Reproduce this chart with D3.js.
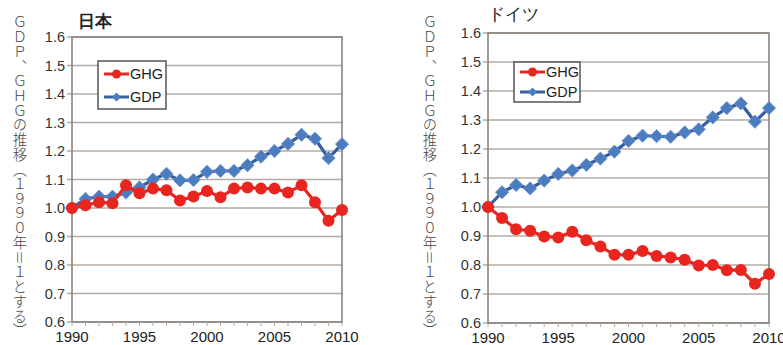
<!DOCTYPE html>
<html>
<head>
<meta charset="utf-8">
<script src="https://cdn.jsdelivr.net/npm/d3@7"></script>
<style>
  html, body { margin: 0; padding: 0; background: #ffffff; }
  svg { display: block; }
  text { font-family: "Liberation Sans", Arial, sans-serif; }
  .vlabel { font-family: "Noto Sans CJK JP", sans-serif; font-weight: 300; writing-mode: vertical-rl; }
</style>
</head>
<body>
<svg id="chart" width="783" height="345"></svg>
<script>
// Years on the x axis
const years = d3.range(1990, 2011);
const xTicks = [1990, 1995, 2000, 2005, 2010];
const yTicks = [0.6, 0.7, 0.8, 0.9, 1.0, 1.1, 1.2, 1.3, 1.4, 1.5, 1.6];

// Japan, index 1990 = 1
const japanGHG = [1.00, 1.01, 1.02, 1.017, 1.08, 1.052, 1.068, 1.062, 1.026, 1.04, 1.06,
                  1.038, 1.068, 1.072, 1.068, 1.068, 1.054, 1.08, 1.02, 0.955, 0.993];
const japanGDP = [1.00, 1.032, 1.04, 1.04, 1.054, 1.072, 1.10, 1.12, 1.097, 1.098, 1.127,
                  1.13, 1.13, 1.15, 1.18, 1.20, 1.225, 1.257, 1.243, 1.175, 1.224];

// Germany, index 1990 = 1
const germanyGHG = [1.00, 0.962, 0.923, 0.918, 0.898, 0.895, 0.915, 0.885, 0.864, 0.835, 0.835,
                    0.848, 0.831, 0.826, 0.818, 0.798, 0.800, 0.782, 0.783, 0.735, 0.769];
const germanyGDP = [1.00, 1.051, 1.076, 1.064, 1.091, 1.114, 1.126, 1.145, 1.167, 1.191, 1.228,
                    1.246, 1.244, 1.242, 1.257, 1.268, 1.309, 1.341, 1.357, 1.294, 1.341];

const yAxisLabel = "ＧＤＰ、ＧＨＧの推移（１９９０年＝１とする）";
const legendNames = ["GHG", "GDP"];

const RED = "#e8261f";
const BLUE_LINE = "#375f9f";
const BLUE_FILL = "#4a7cbf";
const GRID = "#b3aaa3";
const FRAME = "#8a827c";

const svg = d3.select("#chart");

// rotated-square marker
const diamond = d3.symbol(d3.symbolSquare, 88);

function drawPanel(p) {
  const g = svg.append("g");
  const x = d3.scaleLinear().domain([1990, 2010]).range([p.left, p.right]);
  const y = d3.scaleLinear().domain([0.6, 1.6]).range([p.bottom, p.top]);

  // horizontal gridlines (extend slightly left as tick marks)
  g.append("g").selectAll("line").data(yTicks).join("line")
    .attr("x1", p.left - 5).attr("x2", p.right)
    .attr("y1", d => y(d)).attr("y2", d => y(d))
    .attr("stroke", GRID).attr("stroke-width", 1.3);

  // plot frame
  g.append("rect")
    .attr("x", p.left).attr("y", p.top)
    .attr("width", p.right - p.left).attr("height", p.bottom - p.top)
    .attr("fill", "none").attr("stroke", FRAME).attr("stroke-width", 1.6);

  // y axis tick labels
  g.append("g").selectAll("text").data(yTicks).join("text")
    .attr("x", p.left - 7).attr("y", d => y(d) + 5)
    .attr("text-anchor", "end").attr("font-size", 14.5).attr("fill", "#333")
    .text(d => d.toFixed(1));

  // x axis ticks and labels
  g.append("g").selectAll("line").data(years).join("line")
    .attr("x1", d => x(d)).attr("x2", d => x(d))
    .attr("y1", p.bottom).attr("y2", p.bottom + 4)
    .attr("stroke", GRID).attr("stroke-width", 1);
  g.append("g").selectAll("text").data(xTicks).join("text")
    .attr("x", d => x(d)).attr("y", p.bottom + 20)
    .attr("text-anchor", "middle").attr("font-size", 15).attr("fill", "#222")
    .text(d => d);

  // title
  g.append("text")
    .attr("x", p.titleX).attr("y", p.titleY)
    .attr("font-family", "'Noto Sans CJK JP', sans-serif")
    .attr("font-size", 16.5).attr("font-weight", p.titleWeight).attr("fill", "#222")
    .text(p.title);

  // vertical axis title
  g.append("text")
    .attr("class", "vlabel")
    .attr("x", p.vlabelX).attr("y", 15)
    .attr("font-size", 14.3).attr("fill", "#444")
    .attr("letter-spacing", 0.4)
    .text(yAxisLabel);

  const line = d3.line().x((d, i) => x(years[i])).y(d => y(d));

  // GDP series
  g.append("path").datum(p.gdp)
    .attr("d", line).attr("fill", "none")
    .attr("stroke", BLUE_LINE).attr("stroke-width", 3.2);
  g.append("g").selectAll("path").data(p.gdp).join("path")
    .attr("d", diamond)
    .attr("transform", (d, i) => `translate(${x(years[i])},${y(d)}) rotate(45)`)
    .attr("fill", BLUE_FILL).attr("stroke", "#6f98cf").attr("stroke-width", 0.8);

  // GHG series
  g.append("path").datum(p.ghg)
    .attr("d", line).attr("fill", "none")
    .attr("stroke", RED).attr("stroke-width", 3.2);
  g.append("g").selectAll("circle").data(p.ghg).join("circle")
    .attr("cx", (d, i) => x(years[i])).attr("cy", d => y(d))
    .attr("r", 6).attr("fill", RED);

  // legend
  const lg = g.append("g");
  lg.append("rect")
    .attr("x", p.legend.x).attr("y", p.legend.y)
    .attr("width", p.legend.w).attr("height", p.legend.h)
    .attr("fill", "#fff").attr("stroke", "#555").attr("stroke-width", 1.5);
  legendNames.forEach((name, i) => {
    const ly = p.legend.y + p.legend.first + i * p.legend.gap;
    const lx = p.legend.x + 6;
    const col = name === "GHG" ? RED : BLUE_LINE;
    lg.append("line").attr("x1", lx).attr("x2", lx + 25)
      .attr("y1", ly).attr("y2", ly).attr("stroke", col).attr("stroke-width", 3);
    if (name === "GHG") {
      lg.append("circle").attr("cx", lx + 12.5).attr("cy", ly).attr("r", 4.5).attr("fill", RED);
    } else {
      lg.append("path").attr("d", d3.symbol(d3.symbolSquare, 40))
        .attr("transform", `translate(${lx + 12.5},${ly}) rotate(45)`).attr("fill", BLUE_FILL);
    }
    lg.append("text").attr("x", lx + 26).attr("y", ly + 5)
      .attr("font-size", 14.5).attr("fill", "#222").text(name);
  });
}

drawPanel({
  title: "日本", titleX: 78, titleY: 27, titleWeight: 700,
  vlabelX: 20,
  left: 72, right: 342, top: 37, bottom: 322,
  ghg: japanGHG, gdp: japanGDP,
  legend: { x: 98, y: 61, w: 68, h: 48, first: 13, gap: 23 }
});

drawPanel({
  title: "ドイツ", titleX: 488, titleY: 20, titleWeight: 500,
  vlabelX: 430,
  left: 488, right: 769, top: 33, bottom: 323,
  ghg: germanyGHG, gdp: germanyGDP,
  legend: { x: 514, y: 62, w: 66, h: 40, first: 10, gap: 20 }
});
</script>
</body>
</html>
